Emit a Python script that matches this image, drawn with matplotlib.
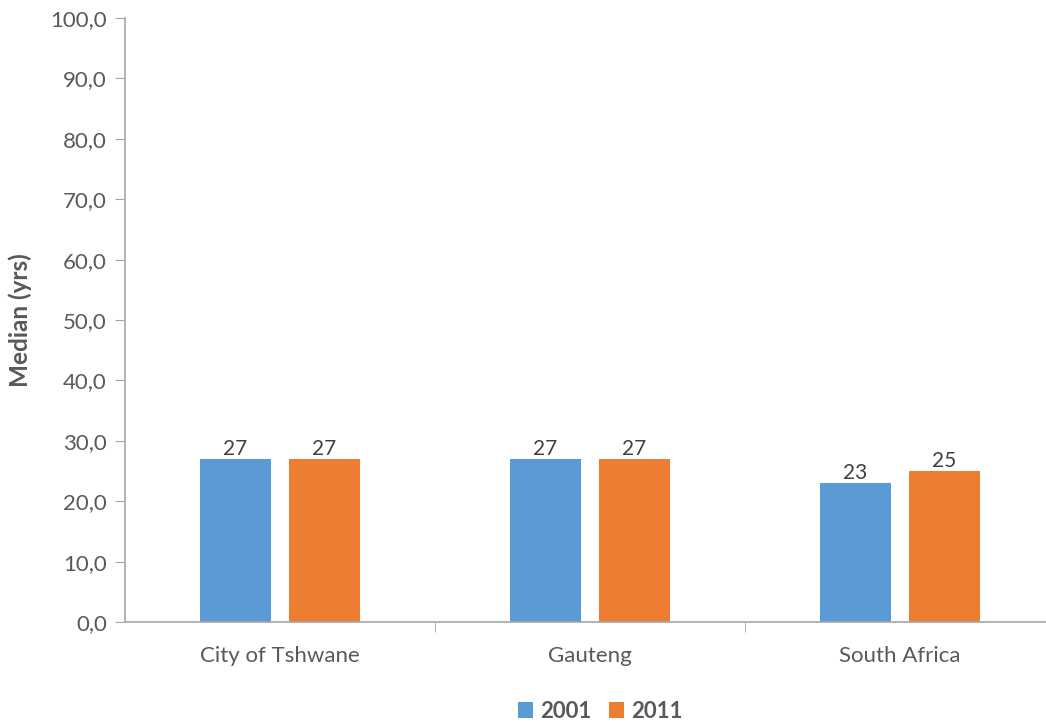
import matplotlib
matplotlib.use("Agg")
import matplotlib.pyplot as plt
import numpy as np

categories = ["City of Tshwane", "Gauteng", "South Africa"]
series_names = ["2001", "2011"]
values_2001 = [27, 27, 23]
values_2011 = [27, 27, 25]
yticks = [0, 10, 20, 30, 40, 50, 60, 70, 80, 90, 100]

plt.rcParams['font.family'] = ['Lato', 'DejaVu Sans']
W, H = 1046, 722
fig = plt.figure(figsize=(W / 100, H / 100), dpi=100)
ax = fig.add_axes([125 / W, (H - 622) / H, 930 / W, 604 / H])

x = np.arange(len(categories))
bw = 0.226
off = 0.1435
c1, c2 = "#5B9BD5", "#ED7D31"
b1 = ax.bar(x - off, values_2001, bw, color=c1, label=series_names[0])
b2 = ax.bar(x + off, values_2011, bw, color=c2, label=series_names[1])
for bars in (b1, b2):
    for r in bars:
        ax.annotate(f"{r.get_height():.0f}", (r.get_x() + r.get_width() / 2, r.get_height()),
                    xytext=(0, 0), textcoords="offset points", ha="center", va="bottom",
                    fontsize=15, color="#404040")

ax.set_xlim(-0.5, 2.5)
ax.set_ylim(0, 100)
ax.set_yticks(yticks)
ax.set_yticklabels([f"{v:.1f}".replace(".", ",") for v in yticks])
ax.set_xticks(x)
ax.set_xticklabels(categories)
ax.set_xticks([0.5, 1.5, 2.5], minor=True)
ax.tick_params(axis="x", which="major", length=0, pad=17, labelsize=16, labelcolor="#595959")
ax.tick_params(axis="x", which="minor", length=7, color="#a6a6a6", direction="out")
ax.tick_params(axis="y", length=7, color="#a6a6a6", labelsize=16, labelcolor="#595959", pad=6)
for s in ("top", "right"):
    ax.spines[s].set_visible(False)
for s in ("left", "bottom"):
    ax.spines[s].set_color("#a6a6a6")
    ax.spines[s].set_linewidth(1.2)
ax.set_ylabel("Median (yrs)", fontsize=17.5, fontweight="bold", color="#595959", labelpad=13)

leg = fig.legend(handles=[b1, b2], labels=series_names, loc="center", bbox_to_anchor=(600 / W, 1 - 711 / H),
                 ncol=2, frameon=False, handlelength=0.7, handleheight=0.7, handletextpad=0.3,
                 columnspacing=0.8, prop={"weight": "bold", "size": 16})
for t in leg.get_texts():
    t.set_color("#595959")

fig.savefig("out.png", dpi=100)
